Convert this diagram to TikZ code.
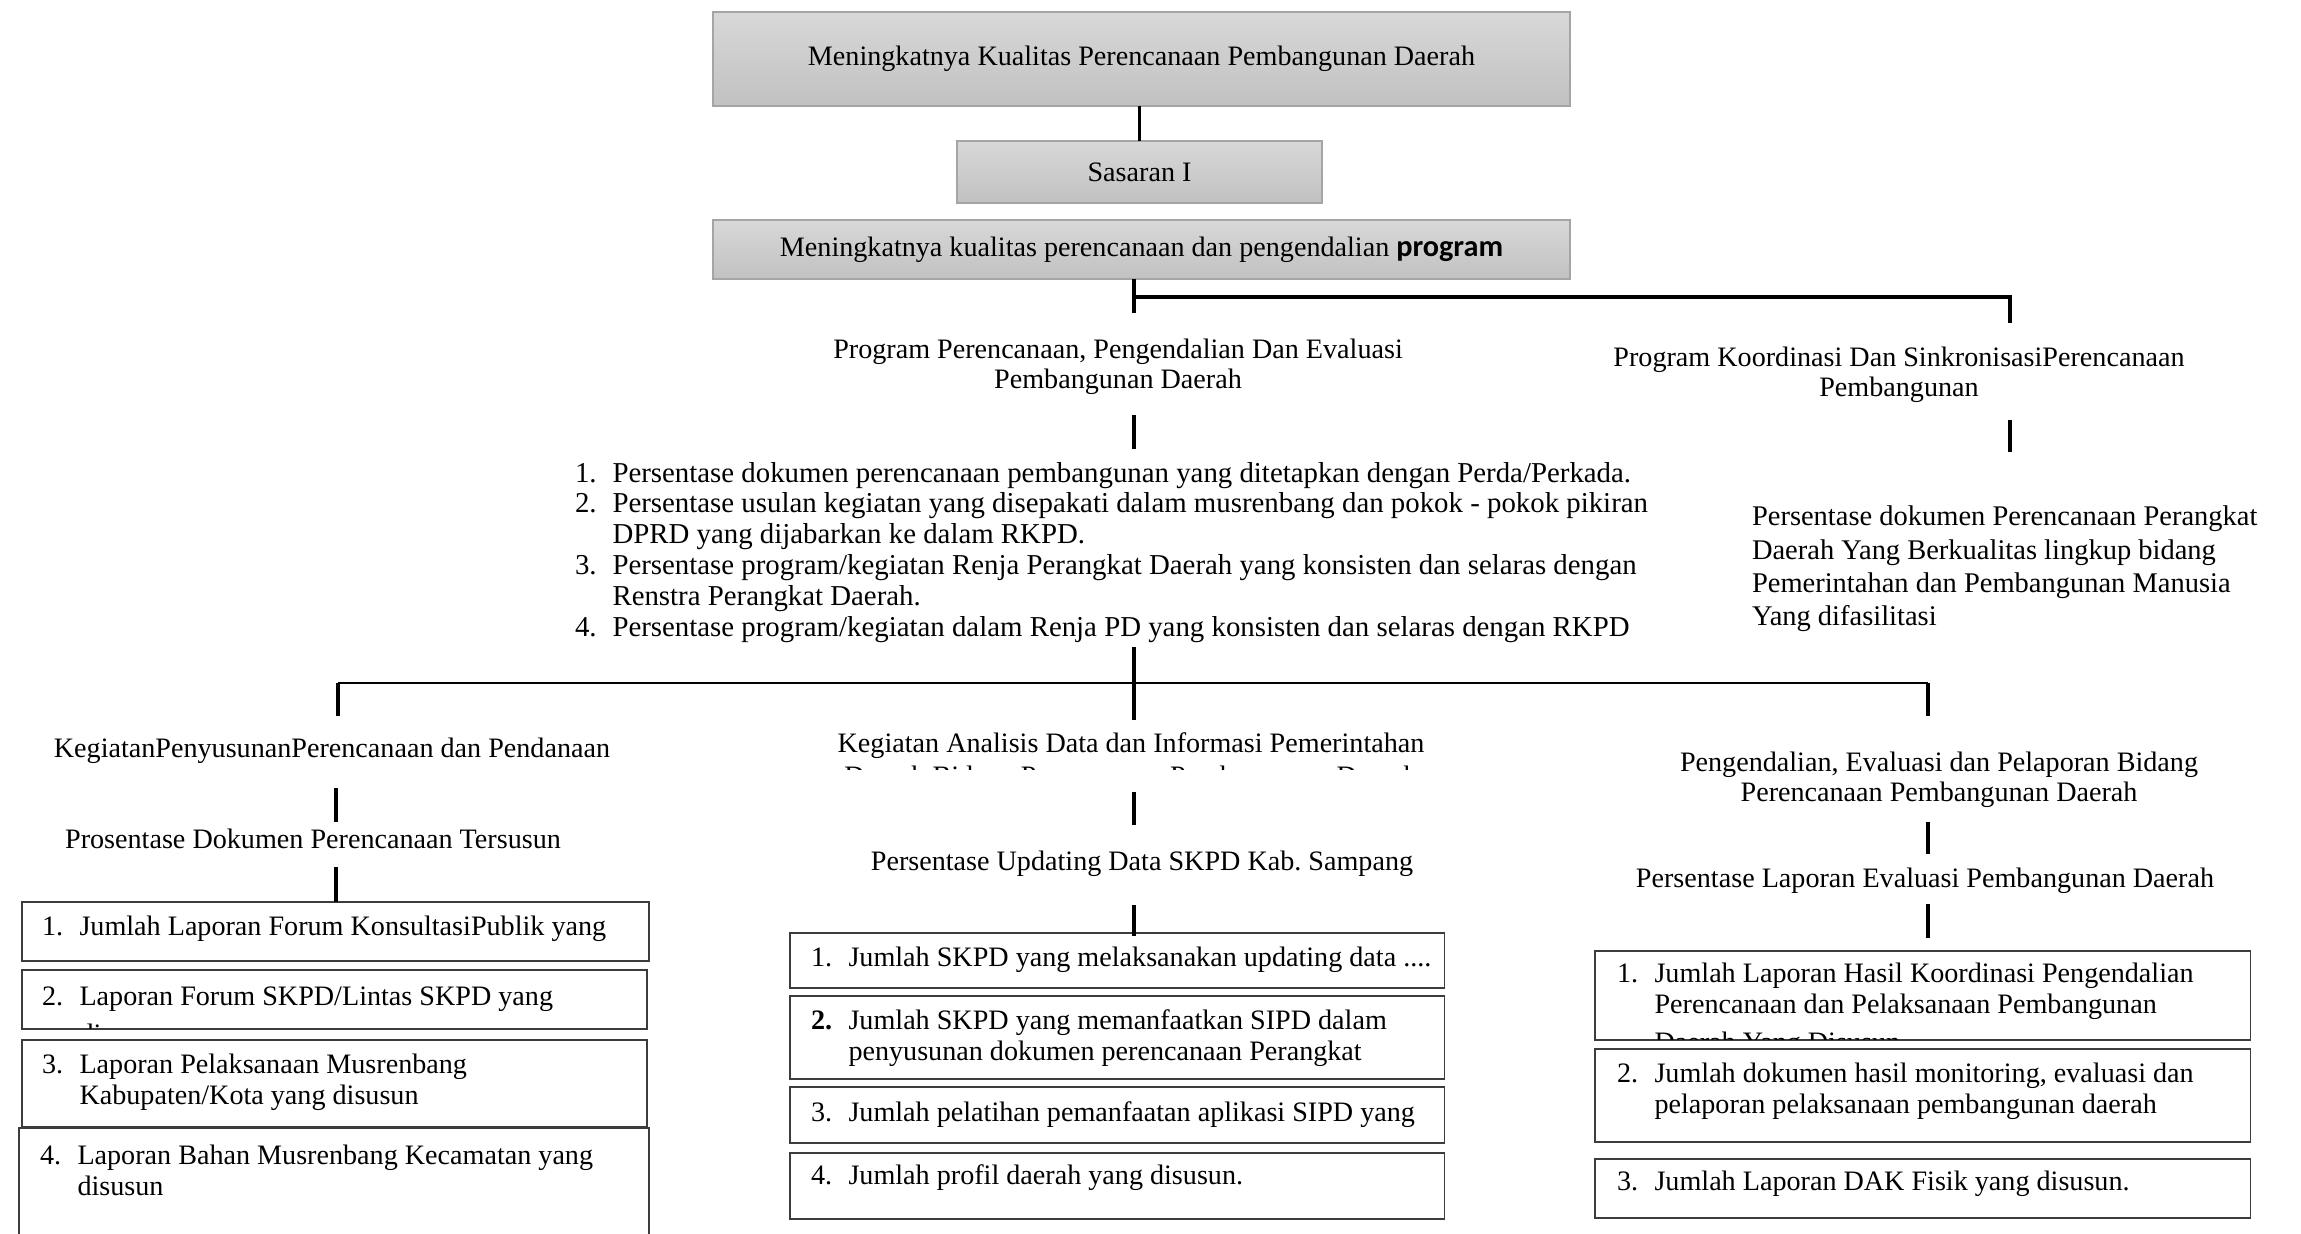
\documentclass[tikz,border=0pt]{standalone}
\usepackage{fontspec}
\setmainfont{Liberation Serif}
\newfontfamily\progsans{Carlito}
\frenchspacing

\definecolor{shadetop}{RGB}{216,216,216}
\definecolor{shadebot}{RGB}{193,193,193}
\definecolor{shadeedge}{RGB}{165,165,165}
\definecolor{boxedge}{RGB}{60,60,60}

% number column of the enumerated lines
\newcommand{\itm}[1]{\makebox[0.375cm][l]{#1}}
\newcommand{\cnt}{\hspace*{0.375cm}}

\begin{document}
\begin{tikzpicture}[x=0.01cm,y=-0.01cm,
  every node/.style={inner sep=0pt,outer sep=0pt},
  txt/.style={font=\fontsize{8}{8.8}\selectfont},
  goalbox/.style={draw=shadeedge,line width=0.6pt,top color=shadetop,bottom color=shadebot,
    font=\fontsize{8}{8.8}\selectfont},
  itembox/.style={draw=boxedge,line width=0.5pt,fill=white,anchor=north west},
  link/.style={line width=1.1pt},
  thinlink/.style={line width=0.75pt}]

\useasboundingbox (0,0) rectangle (2301,1234);
\clip (0,0) rectangle (2301,1234);
\fill[white] (0,0) rectangle (2301,1234);

% ---- goal, target and outcome ----
\node[goalbox,minimum width=8.57cm,minimum height=0.94cm] (goal) at (1141.5,59)
  {Meningkatnya Kualitas Perencanaan Pembangunan Daerah};
\node[goalbox,minimum width=3.65cm,minimum height=0.62cm] (sas) at (1139.5,172) {Sasaran I};
\node[goalbox,minimum width=8.57cm,minimum height=0.59cm] (outc) at (1141.5,249.5)
  {Meningkatnya kualitas perencanaan dan pengendalian {\progsans\bfseries\fontsize{8.6}{8.8}\selectfont program}};

\draw[link] (sas.north |- goal.south) -- (sas.north);

% ---- first branching ----
\coordinate (j1) at (1134,297);
\coordinate (j1b) at (1134,313);
\coordinate (j1r) at (2010,297);
\coordinate (j1re) at (2010,323);
\draw[link] (j1 |- outc.south) -- (j1b);
\draw[link] (j1) -- (j1r) -- (j1re);

% ---- programmes ----
\node[txt,align=center,font=\fontsize{8}{8.5}\selectfont] (progA) at (1118,367)
  {Program Perencanaan, Pengendalian Dan Evaluasi\\Pembangunan Daerah};
\node[txt,align=center,font=\fontsize{8}{8.5}\selectfont] (progB) at (1899,375)
  {Program Koordinasi Dan SinkronisasiPerencanaan\\Pembangunan};

\coordinate (a1) at (1134,415);
\coordinate (a2) at (1134,449);
\coordinate (b1) at (2010,420);
\coordinate (b2) at (2010,452);
\draw[link] (a1) -- (a2);
\draw[link] (b1) -- (b2);

% ---- programme indicators ----
\node[anchor=west,align=left,font=\fontsize{8.2}{8.8}\selectfont] (indA) at (575,552.5)
  {\itm{1.}Persentase dokumen perencanaan pembangunan yang ditetapkan dengan Perda/Perkada.\\
   \itm{2.}Persentase usulan kegiatan yang disepakati dalam musrenbang dan pokok - pokok pikiran\\
   \cnt DPRD yang dijabarkan ke dalam RKPD.\\
   \itm{3.}Persentase program/kegiatan Renja Perangkat Daerah yang konsisten dan selaras dengan\\
   \cnt Renstra Perangkat Daerah.\\
   \itm{4.}Persentase program/kegiatan dalam Renja PD yang konsisten dan selaras dengan RKPD};
\node[anchor=west,align=left,font=\fontsize{8.1}{9.45}\selectfont] (indB) at (1752,569)
  {Persentase dokumen Perencanaan Perangkat\\Daerah Yang Berkualitas lingkup bidang\\
   Pemerintahan dan Pembangunan Manusia\\Yang difasilitasi};

% ---- second branching ----
\coordinate (j2t) at (1134,647);
\coordinate (j2b) at (1134,720);
\coordinate (hl) at (338,683);
\coordinate (hle) at (338,716);
\coordinate (hr) at (1928,683);
\coordinate (hre) at (1928,716);
\draw[link] (j2t) -- (j2b);
\draw[thinlink] (hl) -- (hr);
\draw[link] (hl) -- (hle);
\draw[link] (hr) -- (hre);

% ---- activities ----
\node[txt] (kegL) at (332,751) {KegiatanPenyusunanPerencanaan dan Pendanaan};
\begin{scope}
  \clip (700,700) rectangle (1560,769);
  \node[txt,align=center] (kegM) at (1131,762)
    {Kegiatan Analisis Data dan Informasi Pemerintahan\\[0.5pt]Daerah Bidang Perencanaan Pembangunan Daerah};
\end{scope}
\node[txt,align=center,font=\fontsize{8}{8.5}\selectfont] (kegR) at (1939,780)
  {Pengendalian, Evaluasi dan Pelaporan Bidang\\Perencanaan Pembangunan Daerah};

\coordinate (l1) at (336,788);
\coordinate (l2) at (336,822);
\coordinate (m1) at (1134,792);
\coordinate (m2) at (1134,825);
\coordinate (r1) at (1928,822);
\coordinate (r2) at (1928,854);
\draw[link] (l1) -- (l2);
\draw[link] (m1) -- (m2);
\draw[link] (r1) -- (r2);

\node[txt] (indL) at (313,839) {Prosentase Dokumen Perencanaan Tersusun};
\node[txt] (indM) at (1142,864) {Persentase Updating Data SKPD Kab. Sampang};
\node[txt] (indR) at (1925,880.5) {Persentase Laporan Evaluasi Pembangunan Daerah};

% ---- output boxes ----
\node[itembox,minimum width=6.27cm,minimum height=0.59cm] (L1) at (22,902) {};
\node[itembox,minimum width=6.25cm,minimum height=0.59cm] (L2) at (22,970) {};
\node[itembox,minimum width=6.25cm,minimum height=0.87cm] (L3) at (22,1040) {};
\node[itembox,minimum width=6.30cm,minimum height=1.40cm] (L4) at (19,1128) {};

\node[itembox,minimum width=6.54cm,minimum height=0.55cm] (M1) at (790,933) {};
\node[itembox,minimum width=6.54cm,minimum height=0.83cm] (M2) at (790,996) {};
\node[itembox,minimum width=6.54cm,minimum height=0.56cm] (M3) at (790,1087) {};
\node[itembox,minimum width=6.54cm,minimum height=0.66cm] (M4) at (790,1153) {};

\node[itembox,minimum width=6.55cm,minimum height=0.89cm] (R1) at (1595,951) {};
\node[itembox,minimum width=6.55cm,minimum height=0.93cm] (R2) at (1595,1049) {};
\node[itembox,minimum width=6.55cm,minimum height=0.59cm] (R3) at (1595,1159) {};

\coordinate (l3) at (336,867);
\coordinate (m3) at (1134,905);
\coordinate (m4) at (1134,936);
\coordinate (r3) at (1928,904);
\coordinate (r4) at (1928,938);
\draw[link] (l3) -- (l3 |- L1.north);
\draw[link] (m3) -- (m4);
\draw[link] (r3) -- (r4);

% ---- output texts ----
\node[txt,anchor=west] (L1t) at (42,929) {\itm{1.}Jumlah Laporan Forum KonsultasiPublik yang};
\begin{scope}
  \clip ([shift={(1,-1)}]L2.south west) rectangle ([shift={(-1,1)}]L2.north east);
  \node[txt,anchor=west,align=left] (L2t) at (42,1015)
    {\itm{2.}Laporan Forum SKPD/Lintas SKPD yang\\[2pt]\cnt disusun};
\end{scope}
\node[txt,anchor=west,align=left] (L3t) at (42,1082.5)
  {\itm{3.}Laporan Pelaksanaan Musrenbang\\\cnt Kabupaten/Kota yang disusun};
\node[txt,anchor=west,align=left] (L4t) at (40,1170.5)
  {\itm{4.}Laporan Bahan Musrenbang Kecamatan yang\\\cnt disusun};

\node[txt,anchor=west] (M1t) at (811,960) {\itm{1.}Jumlah SKPD yang melaksanakan updating data ....};
\node[txt,anchor=west,align=left] (M2t) at (811,1038.5)
  {\itm{\textbf{2.}}Jumlah SKPD yang memanfaatkan SIPD dalam\\\cnt penyusunan dokumen perencanaan Perangkat};
\node[txt,anchor=west] (M3t) at (811,1115) {\itm{3.}Jumlah pelatihan pemanfaatan aplikasi SIPD yang};
\node[txt,anchor=west] (M4t) at (811,1178) {\itm{4.}Jumlah profil daerah yang disusun.};

\begin{scope}
  \clip ([shift={(1,-1)}]R1.south west) rectangle ([shift={(-1,1)}]R1.north east);
  \node[txt,anchor=west,align=left] (R1t) at (1617,1010.5)
    {\itm{1.}Jumlah Laporan Hasil Koordinasi Pengendalian\\\cnt Perencanaan dan Pelaksanaan Pembangunan\\[2pt]\cnt Daerah Yang Disusun};
\end{scope}
\node[txt,anchor=west,align=left] (R2t) at (1617,1091.5)
  {\itm{2.}Jumlah dokumen hasil monitoring, evaluasi dan\\\cnt pelaporan pelaksanaan pembangunan daerah};
\node[txt,anchor=west] (R3t) at (1617,1184) {\itm{3.}Jumlah Laporan DAK Fisik yang disusun.};

\end{tikzpicture}
\end{document}
